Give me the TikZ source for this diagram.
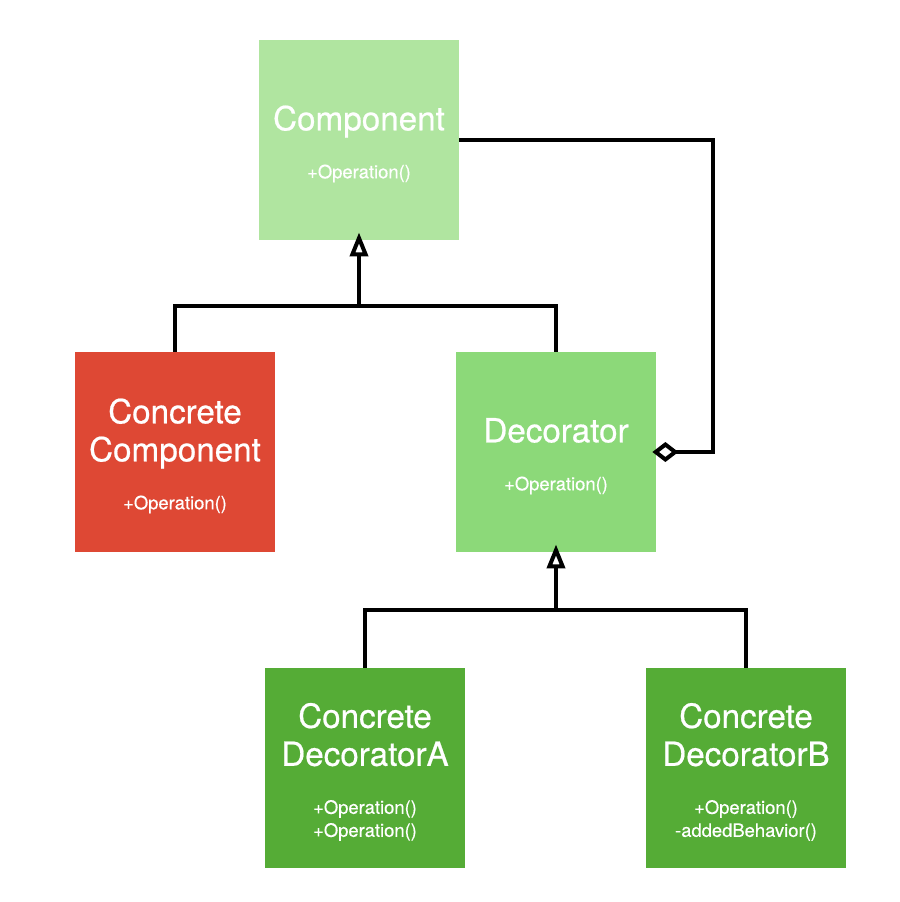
\documentclass[tikz,border=0pt]{standalone}
\usepackage{fontspec}
\setmainfont{TeX Gyre Heros}
\newfontfamily\namefont[FakeBold=0.6]{TeX Gyre Heros}
\newfontfamily\opsfont[FakeBold=0.4]{TeX Gyre Heros}
\usetikzlibrary{arrows.meta}
\definecolor{compgreen}{RGB}{176,229,160}
\definecolor{decgreen}{RGB}{140,217,121}
\definecolor{concgreen}{RGB}{85,172,54}
\definecolor{concred}{RGB}{222,72,52}
\newcommand{\clsname}{\namefont\fontsize{16.6}{19}\selectfont}
\newcommand{\clsops}{\opsfont\fontsize{9.2}{11.5}\selectfont}
\tikzset{
  cls/.style={rectangle,minimum width=100pt,minimum height=100pt,
    inner sep=0pt,text=white,align=center,font=\clsname},
  line/.style={line width=2pt},
  inherit/.style={line,shorten >=-4pt,-{Triangle[open,length=12pt,width=9pt]}},
  aggr/.style={line,shorten >=-2pt,-{Diamond[open,length=13pt,width=10pt]}}
}

\begin{document}
\begin{tikzpicture}[x=0.5pt,y=-0.5pt]
    \useasboundingbox (0,0) rectangle (900,902);
    % classes
    \node[cls,fill=compgreen](comp)at(359,140)
      {\rule{0pt}{16.3pt}Component\\[5pt]\clsops +Operation()};
    \node[cls,fill=concred](cc)at(175,452)
      {\rule{0pt}{16.3pt}Concrete\\Component\\[5pt]\clsops +Operation()};
    \node[cls,fill=decgreen](dec)at(556,452)
      {\rule{0pt}{16.3pt}Decorator\\[5pt]\clsops +Operation()};
    \node[cls,fill=concgreen](cda)at(365,768)
      {\rule{0pt}{16.3pt}Concrete\\DecoratorA\\[5pt]\clsops +Operation()\\[-7.5pt]\clsops +Operation()};
    \node[cls,fill=concgreen](cdb)at(746,768)
      {\rule{0pt}{16.3pt}Concrete\\DecoratorB\\[5pt]\clsops +Operation()\\[-7.5pt]\clsops -addedBehavior()};
    % junctions
    \coordinate(j1)at(359,306);
    \coordinate(j2)at(556,610);
    \coordinate(ag)at(713,452);
    % connectors
    \draw[line](cc.north)|-(j1)-|(dec.north);
    \draw[inherit](j1)--(comp.south);
    \draw[line](cda.north)|-(j2)-|(cdb.north);
    \draw[inherit](j2)--(dec.south);
    \draw[aggr](comp.east)-|(ag)--(dec.east);
\end{tikzpicture}
\end{document}
